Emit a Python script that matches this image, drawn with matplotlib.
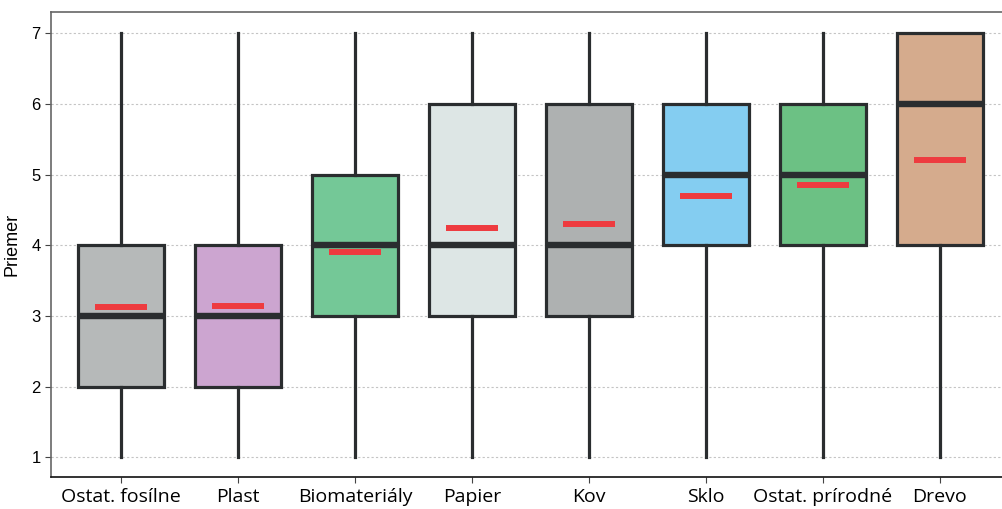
import matplotlib
matplotlib.use("Agg")
import matplotlib.pyplot as plt

categories = ["Ostat. fosílne", "Plast", "Biomateriály", "Papier", "Kov",
              "Sklo", "Ostat. prírodné", "Drevo"]
q1 = [2, 2, 3, 3, 3, 4, 4, 4]
median = [3, 3, 4, 4, 4, 5, 5, 6]
q3 = [4, 4, 5, 6, 6, 6, 6, 7]
whis_lo = [1, 1, 1, 1, 1, 1, 1, 1]
whis_hi = [7, 7, 7, 7, 7, 7, 7, 7]
means = [3.12, 3.14, 3.91, 4.25, 4.30, 4.70, 4.85, 5.20]
colors = ["#b6b9b9", "#cca5d0", "#74c897", "#dde6e5", "#aeb1b1",
          "#84cdf1", "#6cc184", "#d5ab8d"]

stats = []
for i, name in enumerate(categories):
    stats.append({"label": name, "q1": q1[i], "med": median[i], "q3": q3[i],
                  "whislo": whis_lo[i], "whishi": whis_hi[i], "fliers": []})

fig = plt.figure(figsize=(10.02, 5.09), dpi=100)
ax = fig.add_axes([51 / 1002, 1 - 477 / 509, (1010 - 51) / 1002, (477 - 12) / 509])

dark = "#2a2d2f"
pos = list(range(len(categories)))
bp = ax.bxp(stats, positions=pos, widths=0.73, patch_artist=True, showcaps=False,
            showfliers=False,
            boxprops=dict(edgecolor=dark, linewidth=2.3),
            medianprops=dict(color=dark, linewidth=4.6, solid_capstyle="butt"),
            whiskerprops=dict(color=dark, linewidth=2.3))
for patch, c in zip(bp["boxes"], colors):
    patch.set_facecolor(c)

# mean marker: short red bar
ax.hlines(means, [p - 0.22 for p in pos], [p + 0.22 for p in pos],
          colors="#ee3b3f", linewidth=4.3, zorder=5)

ax.set_xlim(-0.6, 7.6)
ax.set_ylim(0.72, 7.3)
ax.set_yticks([1, 2, 3, 4, 5, 6, 7])
ax.yaxis.grid(True, linestyle=(0, (2, 2)), color="#c4c4c4", linewidth=0.8)
ax.set_axisbelow(True)

ax.set_xticks(pos)
ax.set_xticklabels(categories, fontsize=14, family="Open Sans")
ax.tick_params(axis="y", labelsize=12, length=4, color="#444")
ax.tick_params(axis="x", length=4, color="#444", pad=4)
for lab in ax.get_yticklabels():
    lab.set_family("Liberation Sans")
ax.set_ylabel("Priemer", fontsize=13, family="Liberation Sans", labelpad=8)

ax.spines["right"].set_visible(False)
ax.spines["top"].set_color("#666")
ax.spines["left"].set_color("#666")
ax.spines["bottom"].set_color("#111")
for s in ax.spines.values():
    s.set_linewidth(1.2)

fig.savefig("out.png", dpi=100)
